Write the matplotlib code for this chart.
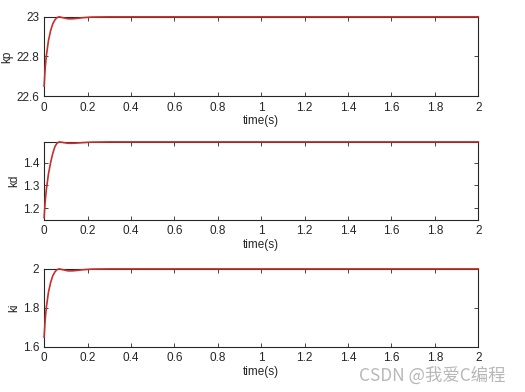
import matplotlib.pyplot as plt

plt.rcParams['font.family'] = ['Liberation Sans', 'DejaVu Sans']

# time points (s)
t = [0, 0.005, 0.01, 0.02, 0.03, 0.04, 0.05, 0.06, 0.07, 0.09, 0.11, 0.13, 0.15, 0.18, 0.22, 0.3, 0.5, 1.0, 2.0]

kp = [22.65, 22.74, 22.80, 22.88, 22.93, 22.965, 22.985, 22.997, 23.0, 22.995, 22.99, 22.99, 22.992, 22.996, 22.999, 23.0, 23.0, 23.0, 23.0]
kd = [1.16, 1.23, 1.28, 1.35, 1.40, 1.44, 1.47, 1.485, 1.49, 1.487, 1.484, 1.484, 1.485, 1.487, 1.489, 1.49, 1.49, 1.49, 1.49]
ki = [1.65, 1.74, 1.80, 1.88, 1.93, 1.965, 1.985, 1.997, 2.0, 1.995, 1.99, 1.99, 1.992, 1.996, 1.999, 2.0, 2.0, 2.0, 2.0]

xticks = [0, 0.2, 0.4, 0.6, 0.8, 1, 1.2, 1.4, 1.6, 1.8, 2]
xticklabels = ['0', '0.2', '0.4', '0.6', '0.8', '1', '1.2', '1.4', '1.6', '1.8', '2']

panels = [
    ('kp', kp, (22.6, 23.0), [22.6, 22.8, 23], ['22.6', '22.8', '23']),
    ('kd', kd, (1.15, 1.49), [1.2, 1.3, 1.4], ['1.2', '1.3', '1.4']),
    ('ki', ki, (1.6, 2.0), [1.6, 1.8, 2], ['1.6', '1.8', '2']),
]

# axes boxes in figure fractions [left, bottom, width, height]
boxes = [
    [0.084, 0.755, 0.827, 0.202],
    [0.084, 0.439, 0.827, 0.199],
    [0.084, 0.115, 0.827, 0.199],
]

fig = plt.figure(figsize=(5.25, 3.92), dpi=100)
fig.patch.set_facecolor('white')

for (name, vals, ylim, yt, ytl), box in zip(panels, boxes):
    ax = fig.add_axes(box)
    ax.plot(t, vals, color='#c4302b', linewidth=1.2, clip_on=False, zorder=3)
    ax.set_xlim(0, 2)
    ax.set_ylim(*ylim)
    ax.set_xticks(xticks)
    ax.set_xticklabels(xticklabels)
    ax.set_yticks(yt)
    ax.set_yticklabels(ytl)
    ax.tick_params(direction='in', length=3, width=0.6, labelsize=8.5, colors='#262626',
                   top=True, right=True)
    ax.tick_params(axis='x', pad=4)
    for s in ax.spines.values():
        s.set_linewidth(0.8)
        s.set_color('#262626')
    ax.set_xlabel('time(s)', fontsize=8.5, color='#262626', labelpad=1)
    ax.set_ylabel(name, fontsize=8.5, color='#262626', labelpad=2)

# watermark
fig.text(0.962, 0.043, 'CSDN @我爱C编程', ha='right', va='center', fontsize=12.5,
         color='#b8b8b8', family=['Noto Sans CJK SC', 'DejaVu Sans'])

fig.savefig('out.png', dpi=100, facecolor='white')
